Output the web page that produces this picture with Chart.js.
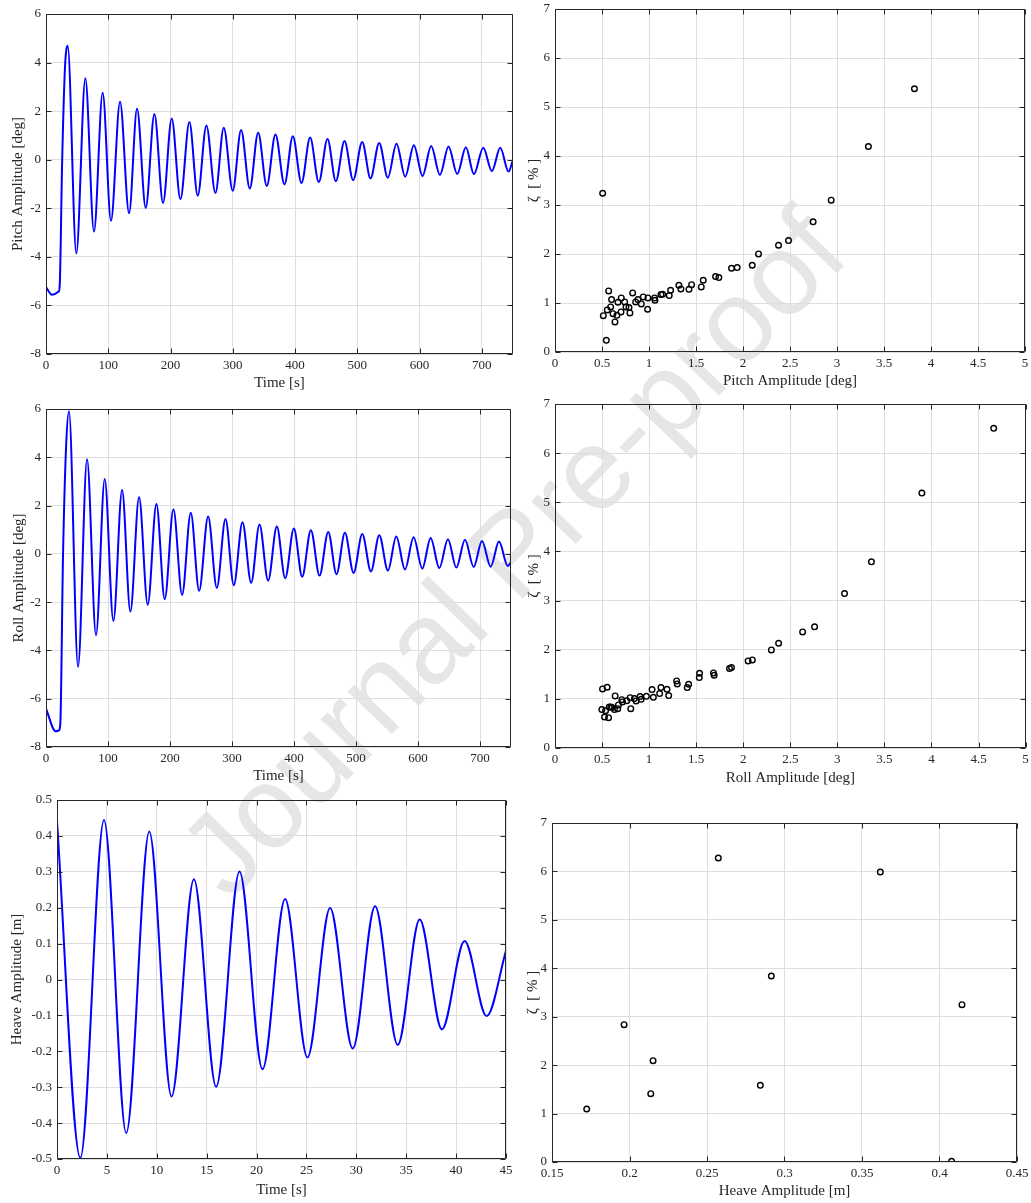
<!DOCTYPE html>
<html><head><meta charset="utf-8">
<script src="https://cdn.jsdelivr.net/npm/chart.js@4.4.0/dist/chart.umd.min.js"></script>
<style>
html,body{margin:0;padding:0;background:#fff;width:1031px;height:1203px;overflow:hidden;position:relative}
canvas{position:absolute}
#wm{position:absolute;font-family:"Liberation Sans",Arial,sans-serif;font-size:116px;color:#e6e6e6;white-space:nowrap;left:512px;top:552px;transform:translate(-50%,-50%) rotate(-46deg);line-height:1}
</style></head><body>
<div id="wm">Journal Pre-proof</div>
<canvas id="c1"></canvas><canvas id="c2"></canvas><canvas id="c3"></canvas>
<canvas id="c4"></canvas><canvas id="c5"></canvas><canvas id="c6"></canvas>
<script>
// ---------- data ----------
const pitchTime = [0, 9.6, 20.4, 22, 26, 30.5, 34.8, 48.7, 63.2, 77.1, 91, 104.4, 118.9, 133.4, 146.2, 160.2, 174.1, 188, 201.9, 215.9, 230.3, 243.7, 257.6, 272.1, 285.5, 299.9, 313.3, 327.3, 340.7, 354.6, 368.5, 383, 396.4, 410.3, 424.2, 438.1, 452.1, 465.5, 479.4, 493.3, 507.8, 521.2, 535.1, 549, 562.9, 576.9, 590.8, 604.7, 618.6, 632.6, 646.5, 660.4, 674.3, 687.2, 702.2, 716.1, 729.5, 742.9, 750];
const pitchDeg = [-5.25, -5.56, -5.43, -5.2, 0.0, 3.8, 4.69, -3.86, 3.35, -2.96, 2.76, -2.51, 2.39, -2.20, 2.10, -1.98, 1.88, -1.78, 1.70, -1.63, 1.55, -1.48, 1.41, -1.37, 1.32, -1.28, 1.22, -1.19, 1.11, -1.08, 1.04, -1.02, 0.97, -0.96, 0.91, -0.92, 0.85, -0.88, 0.77, -0.84, 0.73, -0.77, 0.69, -0.74, 0.66, -0.70, 0.60, -0.67, 0.56, -0.63, 0.54, -0.59, 0.51, -0.60, 0.49, -0.47, 0.49, -0.49, 0.0];

const rollTime = [0, 15.6, 21, 23.1, 27.5, 32.5, 37.1, 51.7, 66.2, 80.7, 94.7, 108.7, 122.7, 136.1, 150.1, 164.1, 178.1, 191.5, 205.5, 219.5, 233.5, 247, 261.5, 275.5, 289.5, 302.9, 316.9, 330.9, 344.3, 358.3, 372.3, 385.8, 399.8, 413.2, 427.2, 441.2, 455.2, 468.6, 482.1, 496.1, 510.1, 524.1, 537.5, 551.5, 565, 579, 592.9, 606.9, 620.4, 634.4, 648.3, 661.8, 675.8, 689.8, 703.2, 717.2, 730.7, 744.7, 750];
const rollDeg = [-6.41, -7.35, -7.31, -7.03, 0.0, 4.5, 5.91, -4.68, 3.92, -3.37, 3.10, -2.78, 2.65, -2.39, 2.34, -2.11, 2.07, -1.88, 1.85, -1.70, 1.70, -1.53, 1.55, -1.41, 1.44, -1.30, 1.31, -1.20, 1.22, -1.11, 1.13, -1.01, 1.05, -0.95, 0.98, -0.90, 0.91, -0.84, 0.87, -0.79, 0.82, -0.73, 0.77, -0.69, 0.72, -0.65, 0.69, -0.61, 0.66, -0.59, 0.61, -0.57, 0.58, -0.54, 0.53, -0.53, 0.51, -0.50, -0.35];

const heaveTime = [0, 2.34, 4.71, 6.94, 9.25, 11.48, 13.72, 15.95, 18.29, 20.6, 22.86, 25.1, 27.37, 29.64, 31.88, 34.15, 36.35, 38.58, 40.85, 43.06, 45];
const heaveM = [0.44, -0.497, 0.444, -0.428, 0.412, -0.326, 0.279, -0.299, 0.301, -0.250, 0.224, -0.217, 0.199, -0.192, 0.204, -0.182, 0.167, -0.139, 0.107, -0.102, 0.080];

const pitchAmp = [0.507, 0.514, 0.546, 0.556, 0.571, 0.592, 0.602, 0.617, 0.638, 0.659, 0.670, 0.702, 0.705, 0.741, 0.755, 0.787, 0.797, 0.826, 0.858, 0.882, 0.918, 0.939, 0.985, 0.989, 1.060, 1.063, 1.127, 1.145, 1.215, 1.230, 1.318, 1.339, 1.425, 1.453, 1.556, 1.577, 1.708, 1.743, 1.878, 1.938, 2.098, 2.165, 2.378, 2.484, 2.746, 2.938, 3.334, 3.824];
const pitchZeta = [3.24, 0.742, 0.238, 0.858, 1.246, 0.919, 1.069, 0.783, 0.613, 0.749, 1.015, 0.817, 1.103, 1.021, 0.919, 0.906, 0.797, 1.205, 1.021, 1.069, 0.981, 1.124, 0.872, 1.103, 1.103, 1.055, 1.171, 1.178, 1.151, 1.260, 1.362, 1.287, 1.280, 1.375, 1.328, 1.464, 1.539, 1.518, 1.709, 1.723, 1.770, 2.002, 2.179, 2.274, 2.656, 3.098, 4.194, 5.372];

const rollAmp = [0.498, 0.505, 0.526, 0.537, 0.554, 0.569, 0.576, 0.593, 0.607, 0.632, 0.639, 0.667, 0.674, 0.710, 0.717, 0.763, 0.798, 0.805, 0.844, 0.862, 0.904, 0.915, 0.971, 1.031, 1.045, 1.112, 1.126, 1.190, 1.208, 1.292, 1.299, 1.405, 1.420, 1.536, 1.533, 1.684, 1.691, 1.854, 1.875, 2.052, 2.097, 2.299, 2.376, 2.631, 2.758, 3.076, 3.362, 3.898, 4.661];
const rollZeta = [0.781, 1.202, 0.631, 0.760, 1.236, 0.618, 0.835, 0.835, 0.822, 0.781, 1.059, 0.801, 0.876, 0.984, 0.937, 0.964, 1.025, 0.801, 1.005, 0.957, 1.046, 0.991, 1.052, 1.188, 1.032, 1.107, 1.229, 1.195, 1.066, 1.365, 1.304, 1.229, 1.297, 1.521, 1.433, 1.528, 1.480, 1.616, 1.636, 1.772, 1.792, 1.996, 2.132, 2.363, 2.465, 3.143, 3.788, 5.187, 6.504];

const heaveAmp = [0.1724, 0.1965, 0.2137, 0.2152, 0.2573, 0.2844, 0.2915, 0.3618, 0.4078, 0.4145];
const heaveZeta = [1.094, 2.836, 1.411, 2.092, 6.277, 1.583, 3.841, 5.988, 0.014, 3.249];

// ---------- ticks ----------
const timeTicks = [0, 100, 200, 300, 400, 500, 600, 700];
const timeTickLabels = ['0', '100', '200', '300', '400', '500', '600', '700'];
const angleTicks = [-8, -6, -4, -2, 0, 2, 4, 6];
const angleTickLabels = ['-8', '-6', '-4', '-2', '0', '2', '4', '6'];
const ampTicks = [0, 0.5, 1, 1.5, 2, 2.5, 3, 3.5, 4, 4.5, 5];
const ampTickLabels = ['0', '0.5', '1', '1.5', '2', '2.5', '3', '3.5', '4', '4.5', '5'];
const zetaTicks = [0, 1, 2, 3, 4, 5, 6, 7];
const zetaTickLabels = ['0', '1', '2', '3', '4', '5', '6', '7'];
const heaveTimeTicks = [0, 5, 10, 15, 20, 25, 30, 35, 40, 45];
const heaveTimeTickLabels = ['0', '5', '10', '15', '20', '25', '30', '35', '40', '45'];
const heaveTicks = [-0.5, -0.4, -0.3, -0.2, -0.1, 0, 0.1, 0.2, 0.3, 0.4, 0.5];
const heaveTickLabels = ['-0.5', '-0.4', '-0.3', '-0.2', '-0.1', '0', '0.1', '0.2', '0.3', '0.4', '0.5'];
const heaveAmpTicks = [0.15, 0.2, 0.25, 0.3, 0.35, 0.4, 0.45];
const heaveAmpTickLabels = ['0.15', '0.2', '0.25', '0.3', '0.35', '0.4', '0.45'];

// ---------- styling / layout ----------
const INK = '#262626', GRID = '#dedede';
const TICKFONT = {family: '"Liberation Serif", "Times New Roman", serif', size: 13};
const TITLEFONT = {family: '"Liberation Serif", "Times New Roman", serif', size: 15};
const PT = 8, XH = 42;

const boxPlugin = {
  id: 'boxTicks',
  afterDatasetsDraw(chart) {
    const {ctx, chartArea: a, scales: {x, y}} = chart;
    ctx.save();
    ctx.strokeStyle = INK; ctx.lineWidth = 1;
    const L = Math.round(a.left) + 0.5, R = Math.round(a.right) - 0.5;
    const T = Math.round(a.top) + 0.5, B = Math.round(a.bottom) - 0.5;
    ctx.beginPath();
    ctx.rect(L, T, R - L, B - T);
    const len = 5;
    x.ticks.forEach(t => {
      const p = Math.round(x.getPixelForValue(t.value)) + 0.5;
      ctx.moveTo(p, B); ctx.lineTo(p, B - len);
      ctx.moveTo(p, T); ctx.lineTo(p, T + len);
    });
    y.ticks.forEach(t => {
      const p = Math.round(y.getPixelForValue(t.value)) + 0.5;
      ctx.moveTo(L, p); ctx.lineTo(L + len, p);
      ctx.moveTo(R, p); ctx.lineTo(R - len, p);
    });
    ctx.stroke();
    ctx.restore();
  }
};

function axis(min, max, ticks, labels, title, isX, fitSize, titlePad) {
  return {
    type: 'linear', min, max,
    afterBuildTicks: s => { s.ticks = ticks.map(v => ({value: v})); },
    ticks: {callback: (v, i) => labels[i], padding: isX ? 4 : 5, font: TICKFONT, color: INK, maxRotation: 0, autoSkip: false},
    grid: {color: GRID, lineWidth: 1, drawTicks: false},
    border: {display: false},
    title: {display: true, text: title, font: TITLEFONT, color: INK,
            padding: isX ? {top: 0, bottom: titlePad} : {top: titlePad, bottom: 0}},
    afterFit: s => {
      if (isX) s.height = fitSize; else s.width = fitSize;
      s.paddingLeft = 0; s.paddingRight = 0; s.paddingTop = 0; s.paddingBottom = 0;
    }
  };
}

function panel(id, p) {
  const cv = document.getElementById(id);
  const left = p.l - p.yw, top = p.t - PT;
  cv.style.left = left + 'px'; cv.style.top = top + 'px';
  cv.width = p.yw + (p.r - p.l) + p.pr;
  cv.height = PT + (p.b - p.t) + XH;
  let dataset;
  if (p.kind === 'line') {
    dataset = {
      data: p.xs.map((x, i) => ({x, y: p.ys[i]})),
      borderColor: '#0000ff', borderWidth: 2, pointRadius: 0,
      cubicInterpolationMode: 'monotone', fill: false
    };
  } else {
    dataset = {
      data: p.xs.map((x, i) => ({x, y: p.ys[i]})),
      pointStyle: 'circle', pointRadius: 2.8, borderWidth: 1.4,
      borderColor: '#000', backgroundColor: 'rgba(0,0,0,0)', showLine: false
    };
  }
  new Chart(cv, {
    type: p.kind === 'line' ? 'line' : 'scatter',
    data: {datasets: [dataset]},
    options: {
      responsive: false, animation: false, devicePixelRatio: 1,
      layout: {padding: {left: 0, top: PT, right: p.pr, bottom: 0}},
      plugins: {legend: {display: false}, tooltip: {enabled: false}},
      scales: {
        x: axis(p.xmin, p.xmax, p.xt, p.xl, p.xtitle, true, XH, p.xpad),
        y: axis(p.ymin, p.ymax, p.yt, p.yl, p.ytitle, false, p.yw, p.ypad)
      }
    },
    plugins: [boxPlugin]
  });
}

panel('c1', {kind: 'line', l: 46, t: 14, r: 513, b: 354, yw: 46, pr: 6, xpad: 4, ypad: 9,
  xs: pitchTime, ys: pitchDeg, xmin: 0, xmax: 750, xt: timeTicks, xl: timeTickLabels,
  ymin: -8, ymax: 6, yt: angleTicks, yl: angleTickLabels, xtitle: 'Time [s]', ytitle: 'Pitch Amplitude [deg]'});
panel('c2', {kind: 'scatter', l: 555, t: 9, r: 1025, b: 352, yw: 40, pr: 6, xpad: 4, ypad: 10,
  xs: pitchAmp, ys: pitchZeta, xmin: 0, xmax: 5, xt: ampTicks, xl: ampTickLabels,
  ymin: 0, ymax: 7, yt: zetaTicks, yl: zetaTickLabels, xtitle: 'Pitch Amplitude [deg]', ytitle: 'ζ  [ % ]'});
panel('c3', {kind: 'line', l: 46, t: 409, r: 511, b: 747, yw: 46, pr: 6, xpad: 4, ypad: 10,
  xs: rollTime, ys: rollDeg, xmin: 0, xmax: 750, xt: timeTicks, xl: timeTickLabels,
  ymin: -8, ymax: 6, yt: angleTicks, yl: angleTickLabels, xtitle: 'Time [s]', ytitle: 'Roll Amplitude [deg]'});
panel('c4', {kind: 'scatter', l: 555, t: 404, r: 1026, b: 748, yw: 40, pr: 5, xpad: 3, ypad: 10,
  xs: rollAmp, ys: rollZeta, xmin: 0, xmax: 5, xt: ampTicks, xl: ampTickLabels,
  ymin: 0, ymax: 7, yt: zetaTicks, yl: zetaTickLabels, xtitle: 'Roll Amplitude [deg]', ytitle: 'ζ  [ % ]'});
panel('c5', {kind: 'line', l: 57, t: 800, r: 506, b: 1159, yw: 57, pr: 8, xpad: 2, ypad: 8,
  xs: heaveTime, ys: heaveM, xmin: 0, xmax: 45, xt: heaveTimeTicks, xl: heaveTimeTickLabels,
  ymin: -0.5, ymax: 0.5, yt: heaveTicks, yl: heaveTickLabels, xtitle: 'Time [s]', ytitle: 'Heave Amplitude [m]'});
panel('c6', {kind: 'scatter', l: 552, t: 823, r: 1017, b: 1162, yw: 37, pr: 14, xpad: 4, ypad: 9,
  xs: heaveAmp, ys: heaveZeta, xmin: 0.15, xmax: 0.45, xt: heaveAmpTicks, xl: heaveAmpTickLabels,
  ymin: 0, ymax: 7, yt: zetaTicks, yl: zetaTickLabels, xtitle: 'Heave Amplitude [m]', ytitle: 'ζ  [ % ]'});
</script>
</body></html>
